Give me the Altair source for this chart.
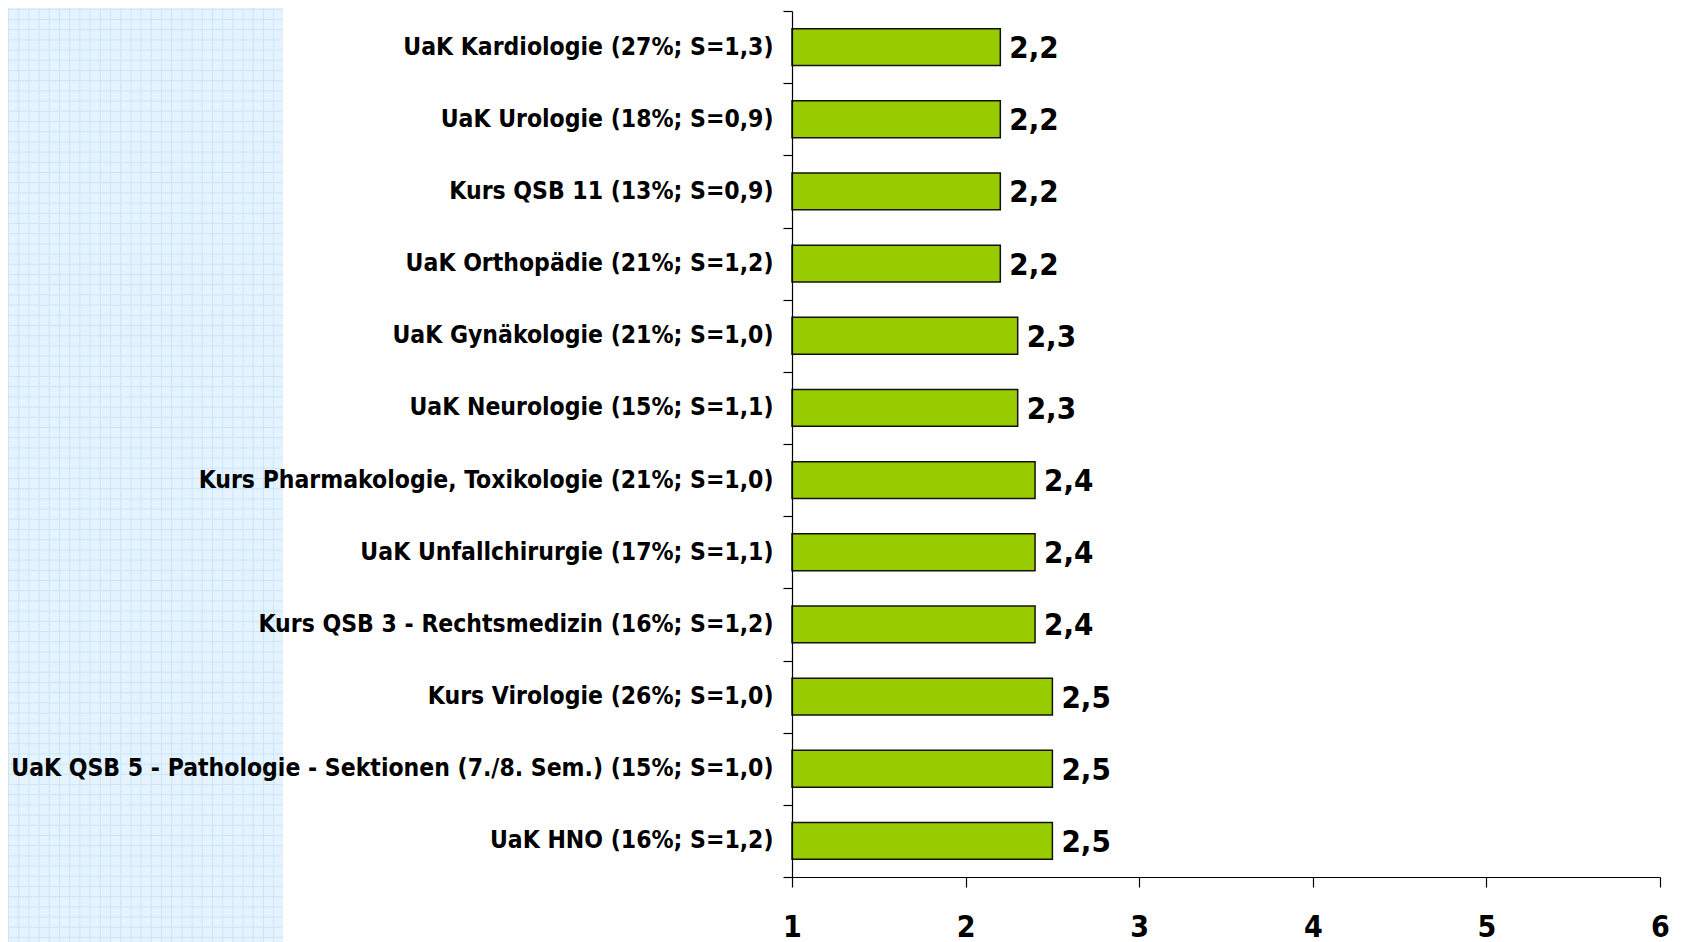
import altair as alt
import pandas as pd

categories = [
    "UaK Kardiologie (27%; S=1,3)",
    "UaK Urologie (18%; S=0,9)",
    "Kurs QSB 11 (13%; S=0,9)",
    "UaK Orthopädie (21%; S=1,2)",
    "UaK Gynäkologie (21%; S=1,0)",
    "UaK Neurologie (15%; S=1,1)",
    "Kurs Pharmakologie, Toxikologie (21%; S=1,0)",
    "UaK Unfallchirurgie (17%; S=1,1)",
    "Kurs QSB 3 - Rechtsmedizin (16%; S=1,2)",
    "Kurs Virologie (26%; S=1,0)",
    "UaK QSB 5 - Pathologie - Sektionen (7./8. Sem.) (15%; S=1,0)",
    "UaK HNO (16%; S=1,2)",
]
values = [2.2, 2.2, 2.2, 2.2, 2.3, 2.3, 2.4, 2.4, 2.4, 2.5, 2.5, 2.5]
x_ticks = [1, 2, 3, 4, 5, 6]

FONT = "Liberation Sans Narrow, Arial Narrow, DejaVu Sans Condensed, Liberation Sans, sans-serif"

df = pd.DataFrame({"cat": categories, "val": values})

# decorative background (blue squared paper on the left)
grid_v = pd.DataFrame({"g": list(range(27))})
grid_h = pd.DataFrame({"g": list(range(92))})

LEFT = 784

bg_rect = alt.Chart(pd.DataFrame({"a": [0]})).mark_rect(color="#e4f3fe").encode(
    x=alt.value(-LEFT - 2), x2=alt.value(275 - LEFT), y=alt.value(-11), y2=alt.value(935)
)
bg_v = alt.Chart(grid_v).mark_rule(color="#c9e6fb", strokeWidth=1).encode(
    x=alt.X("g:Q", scale=alt.Scale(domain=[0, 27], range=[0.5 - LEFT, 275.9 - LEFT]), axis=None),
    y=alt.value(-11),
    y2=alt.value(935),
)
bg_h = alt.Chart(grid_h).mark_rule(color="#c9e6fb", strokeWidth=1).encode(
    y=alt.Y("g:Q", scale=alt.Scale(domain=[0, 91], range=[-1.7, 926.5]), axis=None),
    x=alt.value(-LEFT - 2),
    x2=alt.value(275 - LEFT),
)
bg = alt.layer(bg_rect, bg_v, bg_h).resolve_scale(x="independent", y="independent")

y_enc = alt.Y(
    "cat:N",
    sort=categories,
    scale=alt.Scale(paddingInner=0, paddingOuter=0),
    axis=alt.Axis(
        title=None,
        tickBand="extent",
        tickSize=9,
        tickColor="#000",
        domainColor="#000",
        domainWidth=1.2,
        tickWidth=1.2,
        labelFont=FONT,
        labelFontSize=24.5,
        labelFontWeight="bold",
        labelColor="#000",
        labelLimit=0,
        labelPadding=10,
        zindex=1,
    ),
)
x_enc = alt.X(
    "val:Q",
    scale=alt.Scale(domain=[1, 6], nice=False, zero=False),
    axis=alt.Axis(
        title=None,
        values=x_ticks,
        format="d",
        grid=False,
        tickSize=10,
        tickColor="#000",
        tickWidth=1.2,
        domainColor="#000",
        domainWidth=1.2,
        labelFont=FONT,
        labelFontSize=30,
        labelFontWeight="bold",
        labelColor="#000",
        labelPadding=25,
        labelBaseline="top",
        labelFlush=False,
        labelOverlap=False,
        zindex=1,
    ),
)

bars = alt.Chart(df).mark_bar(
    height=alt.RelativeBandSize(0.51), color="#99cc00", stroke="#111", strokeWidth=1.5
).encode(y=y_enc, x=x_enc, x2=alt.datum(1))

text = alt.Chart(df).transform_calculate(
    lab="replace(format(datum.val, '.1f'), '.', ',')"
).mark_text(
    align="left", baseline="middle", dx=9, dy=2, font=FONT, fontSize=31, fontWeight="bold", color="#000"
).encode(y=alt.Y("cat:N", sort=categories), x=alt.X("val:Q"), text="lab:N")

main = alt.layer(bars, text)

chart = alt.layer(bg, main).resolve_scale(x="independent", y="independent").properties(
    width=868,
    height=866,
    padding={"left": LEFT, "top": 3, "right": 13, "bottom": 65},
    autosize=alt.AutoSizeParams(type="none"),
    background="white",
).configure_view(stroke=None)

chart.save("out.html", embed_options={"renderer": "svg", "actions": False})
